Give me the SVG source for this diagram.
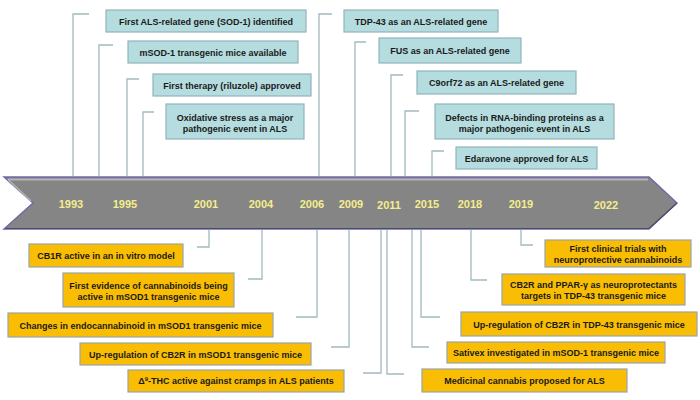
<svg xmlns="http://www.w3.org/2000/svg" width="700" height="400" viewBox="0 0 700 400">
<style>
.bl{fill:#b5dcdf;stroke:#8fb5bb;stroke-width:1.2}
.or{fill:#f9bd04;stroke:#9aa3a8;stroke-width:1.2}
.t{font-family:"Liberation Sans",Arial,sans-serif;font-weight:bold;font-size:9px;fill:#1a1a1a;text-anchor:middle}
.yr{font-family:"Liberation Sans",Arial,sans-serif;font-weight:bold;font-size:11px;fill:#f4ee8c;text-anchor:middle}
.c{fill:none;stroke:#a0babe;stroke-width:1.3}
</style>
<rect width="700" height="400" fill="#ffffff"/>
<g id="timeline">
<polygon points="4,177 649,177 677,203 649,229 4,229 33,203" fill="#858585" stroke="#6b69a9" stroke-width="1.4"/>
<polyline points="8,179.5 648,179.5" stroke="#b4b4b4" stroke-width="2" fill="none"/>
<polyline points="8,179.5 31,201" stroke="#b4b4b4" stroke-width="1.5" fill="none"/>
<polyline points="5,228.5 649,228.5 677,203" stroke="#4d4c66" stroke-width="1.2" fill="none"/>
<text class="yr" x="71" y="208">1993</text>
<text class="yr" x="125" y="208">1995</text>
<text class="yr" x="206" y="208">2001</text>
<text class="yr" x="261" y="208">2004</text>
<text class="yr" x="312" y="208">2006</text>
<text class="yr" x="351" y="208">2009</text>
<text class="yr" x="389" y="209">2011</text>
<text class="yr" x="427" y="208">2015</text>
<text class="yr" x="470" y="208">2018</text>
<text class="yr" x="521" y="208">2019</text>
<text class="yr" x="606" y="209">2022</text>
</g>
<g id="connectors">
<polyline class="c" points="73,176 73,14 89,14"/>
<polyline class="c" points="99,176 99,45 113,45"/>
<polyline class="c" points="127,176 127,79 139,79"/>
<polyline class="c" points="143,176 143,112 154,112"/>
<polyline class="c" points="319,176 319,14 332,14"/>
<polyline class="c" points="355,176 355,42 366,42"/>
<polyline class="c" points="391,176 391,75 403,75"/>
<polyline class="c" points="405,176 405,111 419,111"/>
<polyline class="c" points="432,176 432,151 444,151"/>
<polyline class="c" points="209,230 209,247 197,247"/>
<polyline class="c" points="262,230 262,279 248,279"/>
<polyline class="c" points="317,230 317,317 296,317"/>
<polyline class="c" points="349,230 349,347 331,347"/>
<polyline class="c" points="381,230 381,373 363,373"/>
<polyline class="c" points="387,230 387,374 404,374"/>
<polyline class="c" points="412,230 412,347 429,347"/>
<polyline class="c" points="421,230 421,317 440,317"/>
<polyline class="c" points="471,230 471,280 487,280"/>
<polyline class="c" points="521,230 521,245 533,245"/>
</g>
<g id="n-sod1"><rect class="bl" x="106" y="10" width="200" height="22"/><text class="t" x="206" y="24.5">First ALS-related gene (SOD-1) identified</text></g>
<g id="n-msod1"><rect class="bl" x="128" y="41" width="170" height="22"/><text class="t" x="213" y="55.5">mSOD-1 transgenic mice available</text></g>
<g id="n-riluzole"><rect class="bl" x="153" y="74" width="158" height="22"/><text class="t" x="232" y="88.5">First therapy (riluzole) approved</text></g>
<g id="n-oxidative"><rect class="bl" x="166" y="104" width="138" height="35"/><text class="t" x="235" y="121">Oxidative stress as a major</text><text class="t" x="235" y="132">pathogenic event in ALS</text></g>
<g id="n-tdp43"><rect class="bl" x="344" y="10" width="154" height="22"/><text class="t" x="421" y="24.5">TDP-43 as an ALS-related gene</text></g>
<g id="n-fus"><rect class="bl" x="379" y="38" width="142" height="25"/><text class="t" x="450" y="53.5">FUS as an ALS-related gene</text></g>
<g id="n-c9orf72"><rect class="bl" x="417" y="71" width="159" height="23"/><text class="t" x="496.5" y="85.5">C9orf72 as an ALS-related gene</text></g>
<g id="n-rna"><rect class="bl" x="435" y="104" width="179" height="35"/><text class="t" x="524.5" y="121">Defects in RNA-binding proteins as a</text><text class="t" x="524.5" y="132">major pathogenic event in ALS</text></g>
<g id="n-edaravone"><rect class="bl" x="456" y="147" width="141" height="22"/><text class="t" x="526.5" y="161.5">Edaravone approved for ALS</text></g>
<g id="n-cb1r"><rect class="or" x="29" y="244" width="154" height="23"/><text class="t" x="106" y="258.5">CB1R active in an in vitro model</text></g>
<g id="n-firstevidence"><rect class="or" x="63" y="273" width="171" height="34"/><text class="t" x="148.5" y="288.5">First evidence of cannabinoids being</text><text class="t" x="148.5" y="299.5">active in mSOD1 transgenic mice</text></g>
<g id="n-endocannabinoid"><rect class="or" x="8" y="313" width="265" height="24"/><text class="t" x="140.5" y="328.5">Changes in endocannabinoid in mSOD1 transgenic mice</text></g>
<g id="n-cb2r-msod1"><rect class="or" x="80" y="343" width="231" height="22"/><text class="t" x="195.5" y="357.5">Up-regulation of CB2R in mSOD1 transgenic mice</text></g>
<g id="n-thc"><rect class="or" x="128" y="370" width="216" height="22"/><text class="t" x="236" y="384">Δ<tspan font-size="6" dy="-3.5">9</tspan><tspan dy="3.5">-THC active against cramps in ALS patients</tspan></text></g>
<g id="n-trials"><rect class="or" x="545" y="240" width="146" height="27"/><text class="t" x="618" y="251.5">First clinical trials with</text><text class="t" x="618" y="262.5">neuroprotective cannabinoids</text></g>
<g id="n-ppar"><rect class="or" x="502" y="274" width="183" height="31"/><text class="t" x="593.5" y="287.5">CB2R and PPAR-γ as neuroprotectants</text><text class="t" x="593.5" y="298.5">targets in TDP-43 transgenic mice</text></g>
<g id="n-cb2r-tdp43"><rect class="or" x="461" y="312" width="236" height="24"/><text class="t" x="579" y="327.5">Up-regulation of CB2R in TDP-43 transgenic mice</text></g>
<g id="n-sativex"><rect class="or" x="447" y="342" width="218" height="21"/><text class="t" x="556" y="356">Sativex investigated in mSOD-1 transgenic mice</text></g>
<g id="n-medicinal"><rect class="or" x="422" y="369" width="205" height="23"/><text class="t" x="524.5" y="383.5">Medicinal cannabis proposed for ALS</text></g>
</svg>
